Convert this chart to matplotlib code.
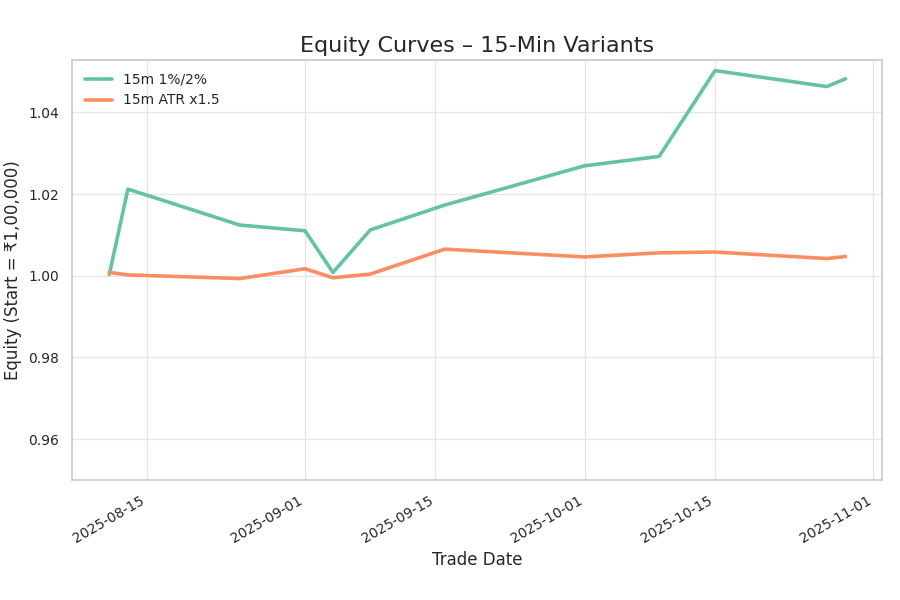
import numpy as np
import pandas as pd
import matplotlib
matplotlib.use("Agg")
import matplotlib.pyplot as plt
import seaborn as sns

# Trade dates and equity values
dates = pd.to_datetime([
    "2025-08-11", "2025-08-13", "2025-08-25", "2025-09-01", "2025-09-04",
    "2025-09-08", "2025-09-16", "2025-10-01", "2025-10-09", "2025-10-15",
    "2025-10-27", "2025-10-29",
])
eq_fixed = [1.0003, 1.0212, 1.0124, 1.0110, 1.0008, 1.0112, 1.0173, 1.0269,
            1.0292, 1.0502, 1.0463, 1.0482]
eq_atr = [1.0008, 1.0002, 0.9993, 1.0017, 0.9995, 1.0004, 1.0065, 1.0046,
          1.0056, 1.0058, 1.0042, 1.0047]
labels = ["15m 1%/2%", "15m ATR x1.5"]

sns.set_theme(style="whitegrid")
colors = sns.color_palette("Set2")

fig, ax = plt.subplots(figsize=(9, 6), dpi=100)
ax.plot(dates, eq_fixed, color=colors[0], lw=2.6, label=labels[0])
ax.plot(dates, eq_atr, color=colors[1], lw=2.6, label=labels[1])

ax.set_ylim(0.95, 1.0528)
ax.set_xlim(pd.Timestamp("2025-08-07"), pd.Timestamp("2025-11-01 22:00"))
ax.set_xticks(pd.to_datetime(["2025-08-15", "2025-09-01", "2025-09-15",
                              "2025-10-01", "2025-10-15", "2025-11-01"]))
ax.xaxis.set_major_formatter(matplotlib.dates.DateFormatter("%Y-%m-%d"))
ax.set_yticks([0.96, 0.98, 1.00, 1.02, 1.04])
ax.yaxis.set_major_formatter(matplotlib.ticker.FormatStrFormatter("%.2f"))
ax.tick_params(labelsize=10)
ax.grid(color="#e5e5e5", lw=0.9)

ax.set_title("Equity Curves – 15-Min Variants", fontsize=16)
ax.set_xlabel("Trade Date", fontsize=12)
ax.set_ylabel("Equity (Start = ₹1,00,000)", fontsize=12)
ax.legend(loc="upper left", fontsize=10, frameon=False)
for s in ax.spines.values():
    s.set_color("#cccccc")
fig.autofmt_xdate()

plt.subplots_adjust(left=0.08, right=0.98, top=0.90, bottom=0.20)
fig.savefig("out.png")
